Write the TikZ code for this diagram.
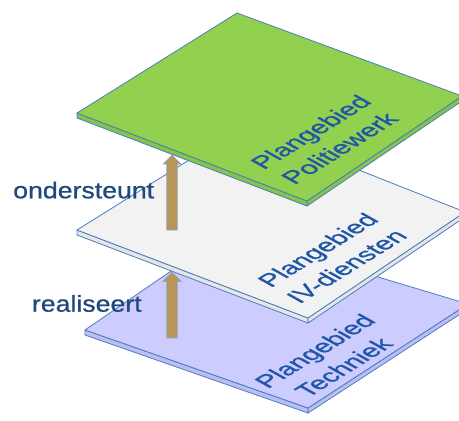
\documentclass[tikz,border=0pt]{standalone}
\usepackage{fontspec}
\setmainfont{Liberation Sans}
\newfontfamily\heavyfont[FakeBold=0.7]{Liberation Sans}
\usetikzlibrary{calc}
\definecolor{edgeblue}{HTML}{4A7EBB}
\definecolor{txtblue}{HTML}{1F497D}
\definecolor{platetxt}{HTML}{1F56A8}
\definecolor{gtop}{HTML}{92D050}
\definecolor{gside}{HTML}{86C447}
\definecolor{wtop}{HTML}{F2F2F2}
\definecolor{wside}{HTML}{E6E6E6}
\definecolor{ptop}{HTML}{CCCCFF}
\definecolor{pside}{HTML}{BDBDF6}
\definecolor{arrowfill}{HTML}{B8965A}
\definecolor{arrowedge}{HTML}{8FAACC}
\tikzset{
  platetop/.style={draw=edgeblue, line width=0.8pt, line join=round},
  plateside/.style={draw=edgeblue, line width=0.8pt, line join=round},
  fatarrow/.style={fill=arrowfill, draw=arrowedge, line width=0.6pt, line join=miter},
  sidelbl/.style={text=txtblue, font=\heavyfont\fontsize{23}{27}\selectfont, inner sep=0pt, xscale=1.16},
  platelbl/.style={text=platetxt, font=\heavyfont\fontsize{25}{33}\selectfont, align=center, inner sep=0pt, transform shape},
  platetext/.style={cm={0.87,0.54,-0.87,0.49,(0,0)}}
}
\begin{document}
\begin{tikzpicture}[x=1pt,y=-1pt]
\useasboundingbox (0,0) rectangle (459,421);
\clip (0,0) rectangle (459,421);
% ---------- purple plate ----------
\coordinate (pL) at (85,330);
\coordinate (pT) at (228,232);
\coordinate (pR) at (468,304);
\coordinate (pB) at (308,408);
\filldraw[plateside, fill=pside] (pL) -- (pB) -- ($(pB)+(0,5)$) -- ($(pL)+(0,5)$) -- cycle;
\filldraw[plateside, fill=pside] (pB) -- (pR) -- ($(pR)+(0,5)$) -- ($(pB)+(0,5)$) -- cycle;
\filldraw[platetop, fill=ptop] (pL) -- (pT) -- (pR) -- (pB) -- cycle;
\begin{scope}[shift={(329,359)}, platetext]
  \node[platelbl] (ptext) at (0,0) {Plangebied\\Techniek};
\end{scope}
% ---------- lower arrow ----------
\coordinate (r0) at (172,338);
\coordinate (r1) at (172,272);
\filldraw[fatarrow] ($(r0)+(-5.3,0)$) -- ($(r1)+(-5.3,9.5)$) -- ($(r1)+(-9.5,9.5)$) -- (r1) -- ($(r1)+(9.5,9.5)$) -- ($(r1)+(5.3,9.5)$) -- ($(r0)+(5.3,0)$) -- cycle;
% ---------- white plate ----------
\coordinate (wL) at (77,230);
\coordinate (wT) at (245,125);
\coordinate (wR) at (465,212);
\coordinate (wB) at (308,318);
\filldraw[plateside, fill=wside] (wL) -- (wB) -- ($(wB)+(0,5)$) -- ($(wL)+(0,5)$) -- cycle;
\filldraw[plateside, fill=wside] (wB) -- (wR) -- ($(wR)+(0,5)$) -- ($(wB)+(0,5)$) -- cycle;
\filldraw[platetop, fill=wtop] (wL) -- (wT) -- (wR) -- (wB) -- cycle;
\begin{scope}[shift={(332,258)}, platetext]
  \node[platelbl] (wtext) at (0,0) {Plangebied\\IV-diensten};
\end{scope}
% ---------- upper arrow ----------
\coordinate (u0) at (172,230);
\coordinate (u1) at (172,155);
\filldraw[fatarrow] ($(u0)+(-5.3,0)$) -- ($(u1)+(-5.3,9)$) -- ($(u1)+(-9,9)$) -- (u1) -- ($(u1)+(9,9)$) -- ($(u1)+(5.3,9)$) -- ($(u0)+(5.3,0)$) -- cycle;
% ---------- green plate ----------
\coordinate (gL) at (77,113);
\coordinate (gT) at (237,13);
\coordinate (gR) at (462,96);
\coordinate (gB) at (307,201);
\filldraw[plateside, fill=gside] (gL) -- (gB) -- ($(gB)+(0,5)$) -- ($(gL)+(0,5)$) -- cycle;
\filldraw[plateside, fill=gside] (gB) -- (gR) -- ($(gR)+(0,5)$) -- ($(gB)+(0,5)$) -- cycle;
\filldraw[platetop, fill=gtop] (gL) -- (gT) -- (gR) -- (gB) -- cycle;
\begin{scope}[shift={(325,140)}, platetext]
  \node[platelbl] (gtext) at (0,0) {Plangebied\\Politiewerk};
\end{scope}
% ---------- side labels ----------
\node[sidelbl, anchor=base west] (ond) at (13,198.3) {ondersteunt};
\node[sidelbl, anchor=base west] (real) at (31.7,311.7) {realiseert};
\end{tikzpicture}
\end{document}
